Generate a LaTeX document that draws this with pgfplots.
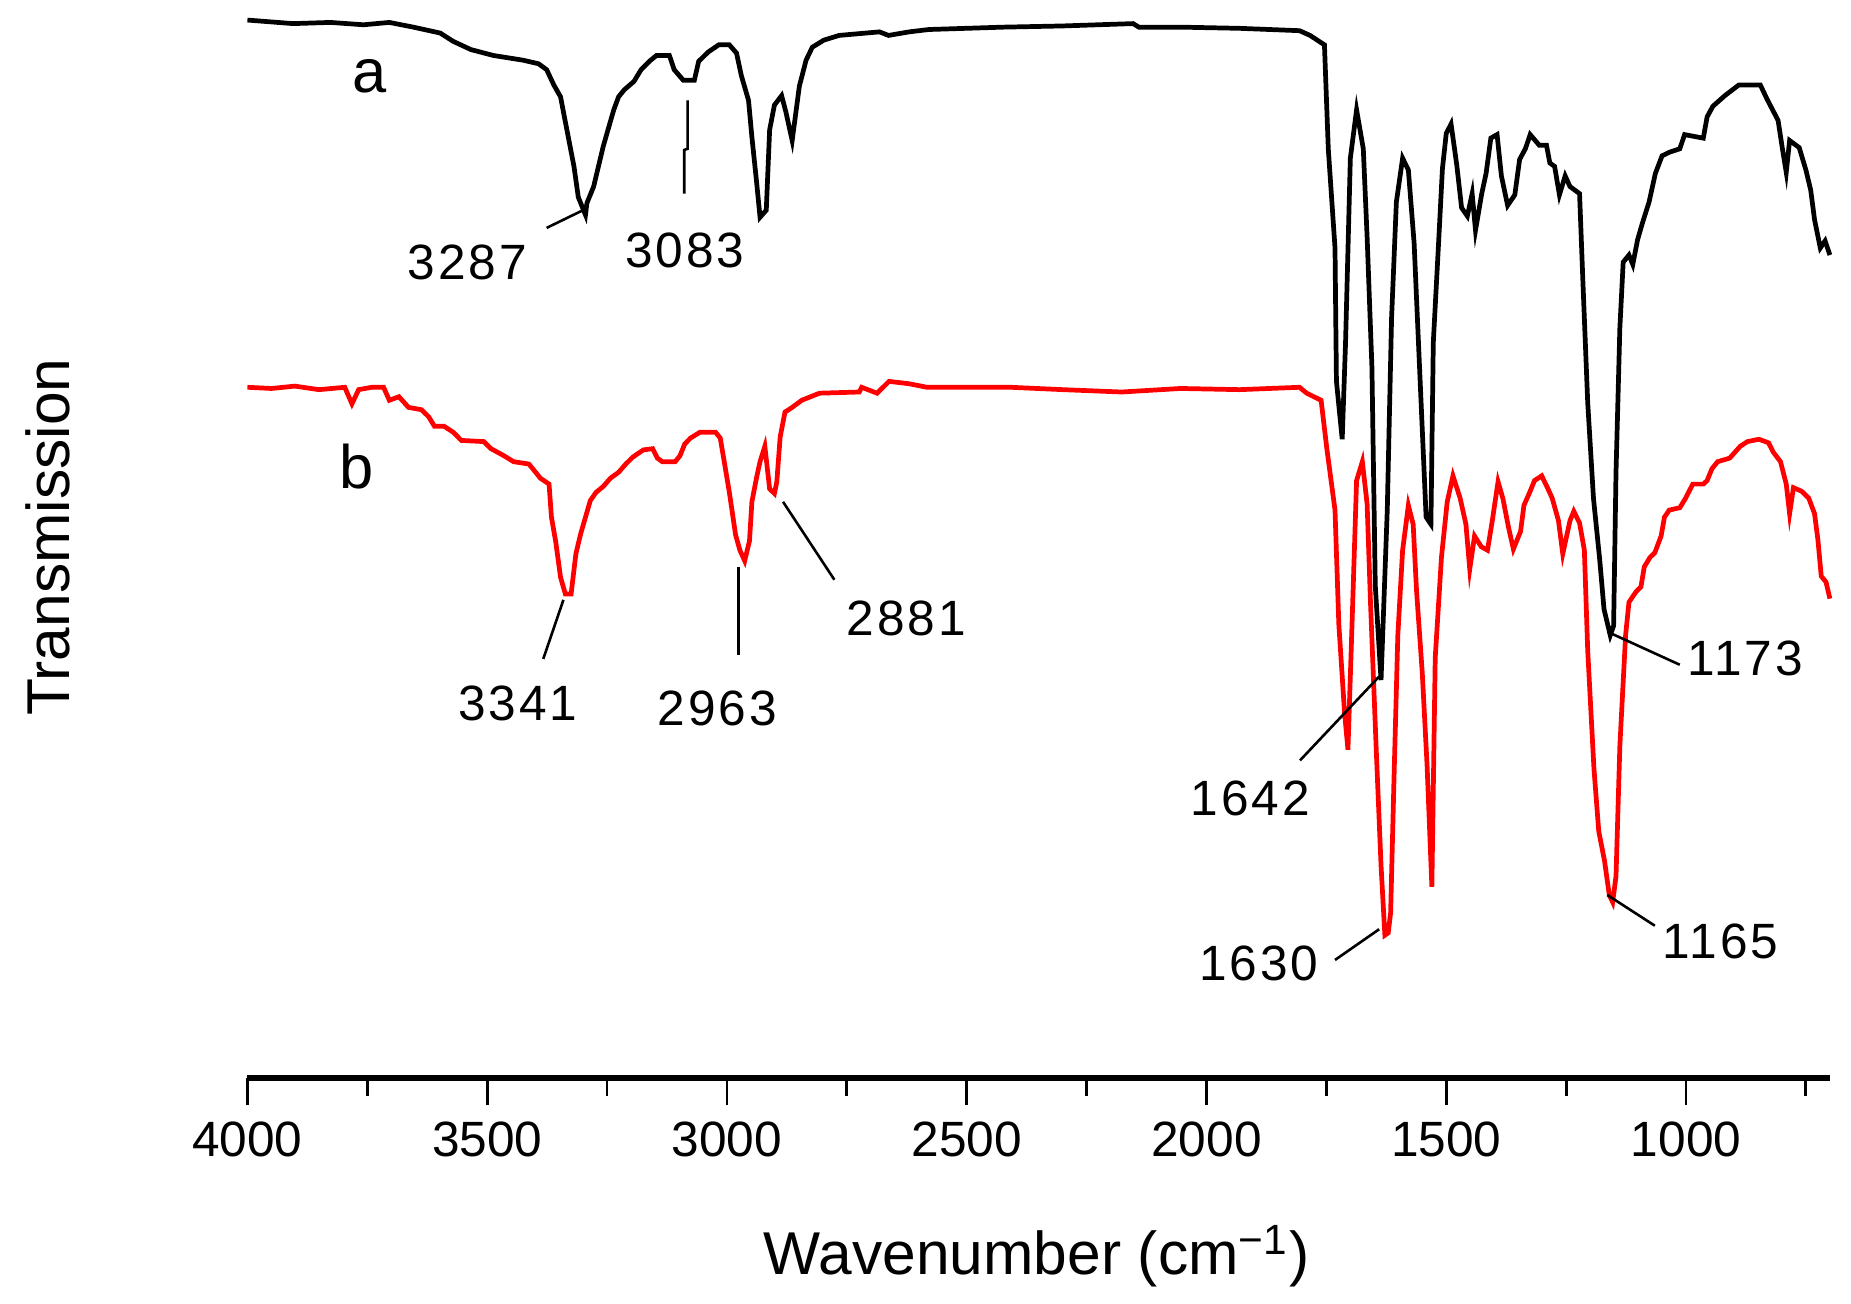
\documentclass[border=0pt]{standalone}
\usepackage{fontspec}
\setmainfont{Liberation Sans}
\newfontfamily\annfont[LetterSpace=6]{Liberation Sans}
\usepackage{pgfplots}
\pgfplotsset{compat=1.18}

\begin{document}
\begin{tikzpicture}
\begin{axis}[
  scale only axis, width=335.05pt, height=228.25pt,
  xmin=700, xmax=4000, ymin=0, ymax=913,
  x dir=reverse,
  axis x line*=bottom, hide y axis,
  axis line style={-, line width=1.25pt},
  xtick={1000,1500,...,4000},
  minor xtick={750,1250,...,3750},
  tick align=outside,
  major tick length=5.75pt, minor tick length=3.75pt,
  tick style={line width=0.6pt, black},
  /pgf/number format/assume math mode=true,
  /pgf/number format/1000 sep={},
  xticklabel style={font=\fontsize{10.5}{12}\selectfont},
  clip=false,
]
\addplot[black, line width=1pt] coordinates {
(4000,896) (3905,893) (3827,894) (3758,892) (3704,894) (3654,890) (3598,885) (3571,878)
(3534,871) (3487,866) (3425,862) (3393,859) (3376,854) (3361,841) (3347,831) (3339,814)
(3329,793) (3319,772) (3310,746) (3295,731) (3292,741) (3278,755) (3268,772) (3258,789)
(3246,806) (3236,820) (3226,831) (3214,837) (3194,844) (3179,854) (3162,861) (3147,866)
(3120,866) (3110,854) (3091,845) (3068,845) (3059,861) (3039,869) (3017,875) (2995,875)
(2980,868) (2970,849) (2955,828) (2948,797) (2938,758) (2931,729) (2918,735) (2911,803)
(2901,824) (2886,832) (2877,818) (2864,794) (2849,840) (2835,862) (2822,873) (2798,879)
(2766,883) (2682,886) (2663,883) (2620,886) (2579,888) (2424,890) (2301,891) (2153,893)
(2141,890) (2054,890) (1931,889) (1806,887) (1784,883) (1754,875) (1746,787) (1732,703)
(1729,590) (1717,541) (1710,623) (1700,779) (1687,820) (1673,787) (1665,712) (1655,602)
(1648,417) (1636,337) (1623,481) (1614,644) (1604,742) (1591,779) (1579,769) (1567,707)
(1557,614) (1542,475) (1532,469) (1527,623) (1515,715) (1508,770) (1500,800) (1490,808)
(1478,773) (1468,737) (1456,730) (1446,749) (1439,718) (1426,749) (1417,766) (1407,796)
(1394,799) (1385,764) (1372,739) (1357,748) (1347,778) (1335,787) (1325,799) (1306,790)
(1291,790) (1284,775) (1274,772) (1264,748) (1252,764) (1242,755) (1222,749) (1215,674)
(1205,572) (1193,491) (1180,439) (1171,397) (1158,375) (1151,383) (1146,513) (1138,635)
(1131,691) (1119,697) (1111,689) (1101,710) (1091,724) (1077,742) (1064,766) (1050,781)
(1035,784) (1013,787) (1003,799) (964,796) (956,814) (944,823) (919,832) (890,841)
(845,841) (831,829) (808,811) (799,787) (791,767) (784,794) (764,788) (750,769)
(740,752) (732,727) (720,703) (710,709) (700,697)
};
\addplot[red, line width=1pt] coordinates {
(4000,585) (3950,584) (3901,586) (3851,583) (3797,585) (3782,571) (3768,583) (3741,585)
(3716,585) (3704,574) (3684,577) (3664,568) (3637,566) (3622,560) (3610,552) (3590,552)
(3571,547) (3554,540) (3507,539) (3492,533) (3465,527) (3445,522) (3413,520) (3403,515)
(3389,508) (3371,503) (3366,475) (3357,454) (3347,424) (3337,410) (3325,410) (3320,427)
(3315,444) (3305,461) (3295,475) (3285,489) (3273,496) (3258,501) (3243,508) (3226,513)
(3211,520) (3196,526) (3174,532) (3155,533) (3145,525) (3135,522) (3108,522) (3098,527)
(3088,537) (3076,542) (3056,547) (3024,547) (3014,542) (3004,518) (2995,496) (2982,460)
(2973,447) (2963,438) (2953,455) (2948,488) (2938,509) (2931,522) (2921,535) (2911,499)
(2901,495) (2896,505) (2889,543) (2879,564) (2864,568) (2844,574) (2807,580) (2724,581)
(2719,585) (2687,580) (2662,590) (2620,588) (2583,585) (2408,585) (2300,583) (2177,581)
(2054,584) (1931,583) (1806,585) (1791,580) (1761,574) (1749,533) (1732,481) (1724,384)
(1712,309) (1705,278) (1697,378) (1687,506) (1675,522) (1665,486) (1658,403) (1646,278)
(1636,180) (1628,121) (1621,123) (1616,140) (1609,253) (1601,375) (1591,447) (1579,485)
(1569,469) (1562,413) (1550,343) (1540,265) (1530,162) (1523,356) (1510,441) (1498,488)
(1486,510) (1471,491) (1459,469) (1451,431) (1441,459) (1427,450) (1414,447) (1404,472)
(1392,505) (1382,491) (1370,466) (1360,448) (1345,463) (1338,485) (1325,497) (1316,506)
(1301,510) (1289,500) (1279,491) (1266,472) (1257,444) (1242,472) (1234,480) (1222,470)
(1212,447) (1205,362) (1192,262) (1182,209) (1170,184) (1160,155) (1153,149) (1146,171)
(1138,281) (1126,375) (1119,403) (1104,412) (1094,416) (1087,433) (1075,441) (1065,445)
(1052,459) (1045,475) (1035,481) (1013,483) (1001,491) (986,503) (964,503) (956,506)
(946,516) (934,522) (909,525) (887,535) (872,539) (848,541) (828,538) (818,530)
(803,522) (791,503) (784,478) (776,500) (759,497) (744,491) (732,478) (725,456)
(718,425) (708,420) (700,406)
};
% leader lines
\draw[line width=0.55pt] (axis cs:3376,720) -- (axis cs:3300,735);
\draw[line width=0.55pt] (axis cs:3082,828) -- (axis cs:3082,787) -- (axis cs:3089,786) -- (axis cs:3089,749);
\draw[line width=0.55pt] (axis cs:3341,405) -- (axis cs:3383,355);
\draw[line width=0.55pt] (axis cs:2976,433) -- (axis cs:2976,358);
\draw[line width=0.55pt] (axis cs:2883,488) -- (axis cs:2776,422);
\draw[line width=0.55pt] (axis cs:1640,340) -- (axis cs:1805,269);
\draw[line width=0.55pt] (axis cs:1640,126) -- (axis cs:1732,100);
\draw[line width=0.55pt] (axis cs:1164,378) -- (axis cs:1013,350);
\draw[line width=0.55pt] (axis cs:1164,155) -- (axis cs:1065,129);
% peak labels
\begin{scope}[every node/.style={font=\annfont\fontsize{10.5}{12}\selectfont, inner sep=0pt}]
\node at (axis cs:3541,691) {3287};
\node at (axis cs:3088,701) {3083};
\node at (axis cs:3436,317) {3341};
\node at (axis cs:3020,313) {2963};
\node at (axis cs:2626,389) {2881};
\node at (axis cs:1909,237) {1642};
\node at (axis cs:1891,97) {1630};
\node at (axis cs:877,355) {1173};
\node at (axis cs:928,116) {1165};
\end{scope}
\node[font=\fontsize{13}{15}\selectfont, inner sep=0pt] at (axis cs:3745,848) {a};
\node[font=\fontsize{13}{15}\selectfont, inner sep=0pt] at (axis cs:3772,518) {b};
% axis titles
\node[font=\fontsize{12.8}{15}\selectfont, rotate=90, inner sep=0pt] at (axis cs:4417,458) {Transmission};
\node[font=\fontsize{12.8}{15}\selectfont, inner sep=0pt] at (axis cs:2354,-151) {Wavenumber (cm\textsuperscript{−1})};
\coordinate (bbsw) at (axis cs:4516,-191);
\coordinate (bbne) at (axis cs:656,913);
\end{axis}
\pgfresetboundingbox
\path[use as bounding box] (bbsw) rectangle (bbne);
\end{tikzpicture}
\end{document}
